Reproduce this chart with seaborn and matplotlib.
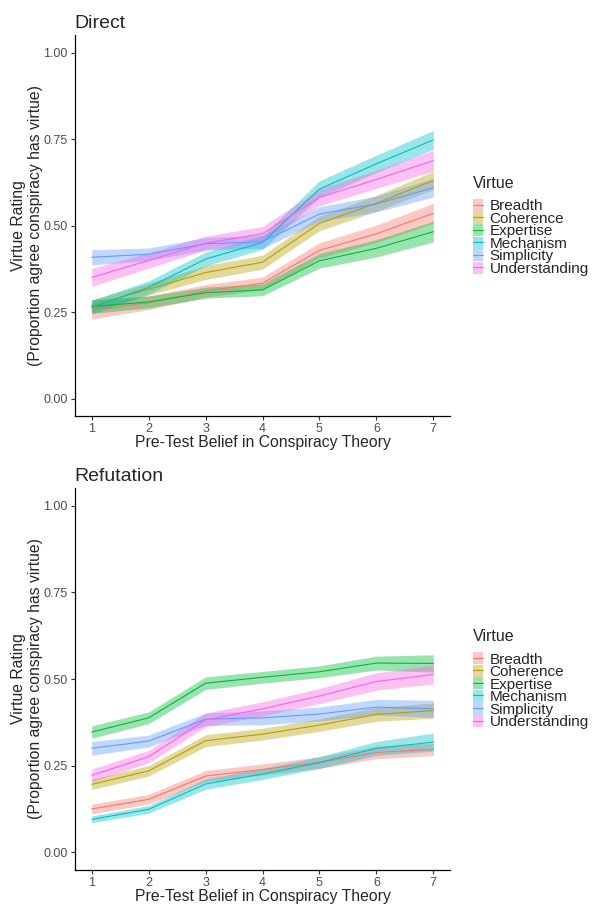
import numpy as np
import pandas as pd
import seaborn as sns
import matplotlib.pyplot as plt
from matplotlib.patches import Patch
from matplotlib.lines import Line2D

# Belief levels and virtues
belief = [1, 2, 3, 4, 5, 6, 7]
virtues = ["Breadth", "Coherence", "Expertise", "Mechanism", "Simplicity", "Understanding"]
colors = ["#F8766D", "#B79F00", "#00BA38", "#00BFC4", "#619CFF", "#F564E3"]

# Direct condition: mean rating and half-width of the band
direct_mean = {
    "Breadth":       [0.255, 0.278, 0.312, 0.334, 0.429, 0.477, 0.536],
    "Coherence":     [0.269, 0.317, 0.365, 0.395, 0.507, 0.565, 0.631],
    "Expertise":     [0.267, 0.280, 0.307, 0.315, 0.399, 0.435, 0.483],
    "Mechanism":     [0.265, 0.322, 0.404, 0.452, 0.606, 0.679, 0.748],
    "Simplicity":    [0.409, 0.418, 0.448, 0.454, 0.534, 0.563, 0.610],
    "Understanding": [0.351, 0.400, 0.450, 0.477, 0.582, 0.634, 0.688],
}
direct_err = {
    "Breadth":       [0.024, 0.020, 0.018, 0.018, 0.022, 0.025, 0.029],
    "Coherence":     [0.017, 0.017, 0.020, 0.020, 0.021, 0.023, 0.026],
    "Expertise":     [0.020, 0.017, 0.016, 0.017, 0.021, 0.025, 0.030],
    "Mechanism":     [0.020, 0.019, 0.020, 0.020, 0.024, 0.025, 0.027],
    "Simplicity":    [0.022, 0.018, 0.018, 0.019, 0.021, 0.023, 0.027],
    "Understanding": [0.026, 0.022, 0.020, 0.021, 0.024, 0.026, 0.030],
}

# Refutation condition
refute_mean = {
    "Breadth":       [0.125, 0.153, 0.220, 0.239, 0.259, 0.288, 0.297],
    "Coherence":     [0.196, 0.235, 0.322, 0.341, 0.367, 0.398, 0.409],
    "Expertise":     [0.347, 0.388, 0.488, 0.505, 0.521, 0.546, 0.545],
    "Mechanism":     [0.095, 0.124, 0.197, 0.226, 0.259, 0.300, 0.318],
    "Simplicity":    [0.300, 0.321, 0.384, 0.388, 0.399, 0.419, 0.414],
    "Understanding": [0.222, 0.276, 0.382, 0.414, 0.451, 0.493, 0.513],
}
refute_err = {
    "Breadth":       [0.014, 0.014, 0.016, 0.016, 0.017, 0.018, 0.018],
    "Coherence":     [0.015, 0.015, 0.017, 0.017, 0.018, 0.020, 0.022],
    "Expertise":     [0.018, 0.017, 0.018, 0.017, 0.017, 0.020, 0.025],
    "Mechanism":     [0.010, 0.011, 0.015, 0.016, 0.017, 0.020, 0.026],
    "Simplicity":    [0.020, 0.017, 0.018, 0.020, 0.020, 0.022, 0.025],
    "Understanding": [0.018, 0.018, 0.020, 0.020, 0.022, 0.025, 0.027],
}


def to_long(means, errs):
    rows = []
    for v in virtues:
        for b, m, e in zip(belief, means[v], errs[v]):
            rows.append({"belief": b, "Virtue": v, "rating": m, "lo": m - e, "hi": m + e})
    return pd.DataFrame(rows)


sns.set_style("white")
plt.rcParams["font.family"] = ["Liberation Sans", "DejaVu Sans"]

fig = plt.figure(figsize=(5.96, 9.07), dpi=100)
ax_top = fig.add_axes([0.1252, 0.541, 0.6305, 0.4201])
ax_bot = fig.add_axes([0.1252, 0.0412, 0.6305, 0.4203])

panels = [(ax_top, "Direct", direct_mean, direct_err),
          (ax_bot, "Refutation", refute_mean, refute_err)]

for ax, title, means, errs in panels:
    df = to_long(means, errs)
    for v, c in zip(virtues, colors):
        d = df[df["Virtue"] == v]
        ax.fill_between(d["belief"], d["lo"], d["hi"], color=c, alpha=0.4, linewidth=0)
    sns.lineplot(data=df, x="belief", y="rating", hue="Virtue", palette=colors,
                 hue_order=virtues, linewidth=0.8, legend=False, ax=ax)
    ax.set_xlim(0.7, 7.3)
    ax.set_ylim(-0.05, 1.05)
    ax.set_xticks(belief)
    ax.set_yticks([0, 0.25, 0.5, 0.75, 1.0])
    ax.set_yticklabels(["0.00", "0.25", "0.50", "0.75", "1.00"])
    ax.tick_params(axis="both", which="both", length=3, width=0.8, color="#333333",
                   labelsize=9, labelcolor="#4D4D4D", pad=2, left=True, bottom=True)
    for s in ["top", "right"]:
        ax.spines[s].set_visible(False)
    for s in ["left", "bottom"]:
        ax.spines[s].set_color("black")
        ax.spines[s].set_linewidth(0.9)
    ax.set_xlabel("Pre-Test Belief in Conspiracy Theory", fontsize=11.3, labelpad=0)
    ax.set_ylabel("Virtue Rating\n(Proportion agree conspiracy has virtue)", fontsize=11.3,
                  labelpad=0)
    ax.set_title(title, loc="left", fontsize=14, pad=5)

    handles = [(Patch(facecolor=c, alpha=0.4, linewidth=0), Line2D([], [], color=c, linewidth=0.8))
               for c in colors]
    leg = ax.legend(handles, virtues, title="Virtue", loc="center left",
                    bbox_to_anchor=(1.06, 0.5), frameon=False, fontsize=11,
                    title_fontsize=11.5, handlelength=0.65, handleheight=0.85,
                    labelspacing=-0.12, handletextpad=0.45, borderaxespad=0,
                    borderpad=0)
    leg._legend_box.align = "left"
    leg._legend_box.sep = 6

fig.savefig("out.png", dpi=100)
